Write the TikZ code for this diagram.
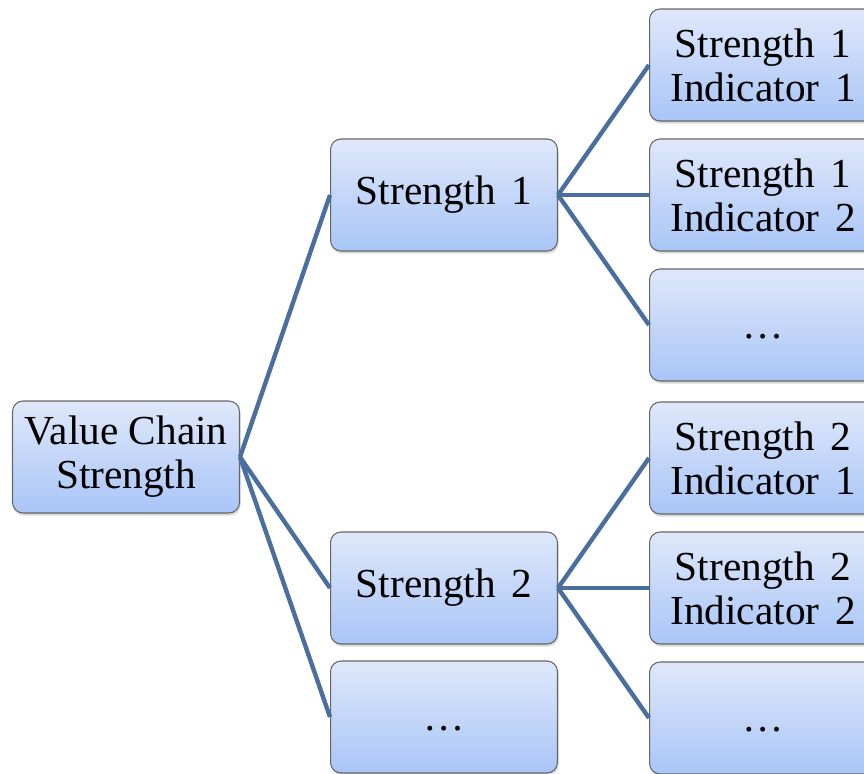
\documentclass[tikz,border=0pt]{standalone}
\usepackage{fontspec}
\setmainfont{Liberation Serif}
\usetikzlibrary{shadows}
\definecolor{boxtop}{HTML}{DFE8FA}
\definecolor{boxbot}{HTML}{A9C5F7}
\definecolor{linkblue}{HTML}{4A6E9D}
\newcommand{\gap}{~\hspace{3pt}}
\newcommand{\moredots}{\raisebox{-16pt}{…}}

\begin{document}
\begin{tikzpicture}[x=0.02cm,y=-0.02cm,
  box/.style={draw=gray!80!black, line width=0.6pt, rounded corners=6pt,
    top color=boxtop, bottom color=boxbot,
    minimum width=4.54cm, minimum height=2.24cm, align=center,
    font=\fontsize{23.5}{25}\selectfont,
    drop shadow={opacity=0.3, shadow xshift=0.6pt, shadow yshift=-1.5pt}},
  link/.style={draw=linkblue, line width=2.5pt}]
\useasboundingbox (0,0) rectangle (864,773);
\clip (0,0) rectangle (864,773);
\node[box] (root) at (126,457) {Value Chain\\Strength};
\node[box] (s1) at (444,195) {Strength\gap 1};
\node[box] (s2) at (444,588) {Strength\gap 2};
\node[box] (sdots) at (444,717) {\moredots};
\foreach \s/\y in {1/195, 2/588} {
 \node[box] (s\s-1) at (763,\y-130) {Strength\gap\s\\Indicator\gap 1};
 \node[box] (s\s-2) at (763,\y) {Strength\gap\s\\Indicator\gap 2};
 \node[box] (s\s-3) at (763,\y+130) {\moredots};
 \foreach \k in {1,2,3} {
  \draw[link] (s\s.east) -- (s\s-\k.west);
 }
}
\foreach \n in {s1,s2,sdots} {
 \draw[link] (root.east) -- (\n.west);
}
\end{tikzpicture}
\end{document}
